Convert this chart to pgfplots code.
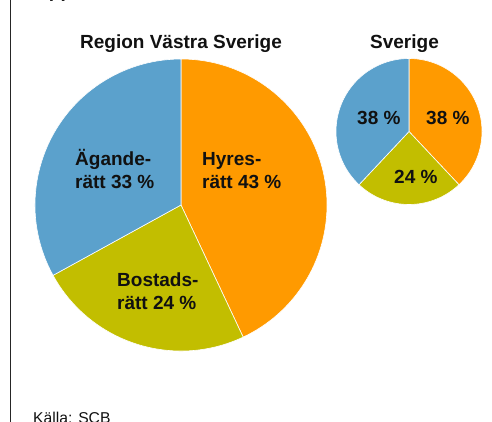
\documentclass[border=0pt]{standalone}
\usepackage{pgfplots}
\pgfplotsset{compat=1.18}
\usepackage{pgfplotstable}
\usepackage{fontspec}
\setmainfont{Liberation Sans}
\definecolor{hyres}{RGB}{255,154,0}
\definecolor{bostad}{RGB}{194,190,0}
\definecolor{agande}{RGB}{91,161,204}
\definecolor{txt}{RGB}{17,17,17}

% columns: centre x, centre y (image px), radius, cumulative share before slice, share (%)
\pgfplotstableread{
x   y     r   cum val
181 205   146 0   43
409 131.5 73  0   38
}\hyresdata
\pgfplotstableread{
x   y     r   cum val
181 205   146 43  24
409 131.5 73  38  24
}\bostaddata
\pgfplotstableread{
x   y     r   cum val
181 205   146 67  33
409 131.5 73  62  38
}\agandedata

\pgfdeclareplotmark{wedge}{%
  \pgfmathsetmacro\pa{90-3.6*\pcum}%
  \pgfmathsetmacro\pb{90-3.6*(\pcum+\pval)}%
  \pgfpathmoveto{\pgfpointorigin}%
  \pgfpathlineto{\pgfpointpolar{\pa}{\prad pt}}%
  \pgfpatharc{\pa}{\pb}{\prad pt}%
  \pgfpathclose
  \pgfusepathqfillstroke
}

\newcommand\lab[3]{\node[anchor=base west,inner sep=0pt,text=txt,font=\bfseries\fontsize{19}{23}\selectfont] at (axis cs:#1,#2) {#3};}

\pgfplotsset{frame/.style={
  at={(0,0)}, anchor=south west,
  width=492pt, height=421pt, scale only axis,
  xmin=0, xmax=492, ymin=0, ymax=421, y dir=reverse,
  hide axis, clip=false}}

\begin{document}
\begin{tikzpicture}
\useasboundingbox (0,0) rectangle (492pt,421pt);
\clip (0,0) rectangle (492pt,421pt);
\begin{axis}[frame,
  pie/.style={scatter, only marks, mark=wedge, point meta=\thisrow{val},
    visualization depends on={\thisrow{r} \as \prad},
    visualization depends on={\thisrow{cum} \as \pcum},
    visualization depends on={\thisrow{val} \as \pval},
    scatter/use mapped color={draw=white, fill=#1},
    mark options={line width=0.6pt}},
]
\addplot[pie=hyres] table {\hyresdata};
\addplot[pie=bostad] table {\bostaddata};
\addplot[pie=agande] table {\agandedata};
\end{axis}
\begin{axis}[frame]
% vertical rule
\draw[black!85, line width=1pt] (axis cs:10.5,-5) -- (axis cs:10.5,430);
% cut-off title
\node[anchor=base west,inner sep=0pt,text=txt,font=\bfseries\fontsize{19}{23}\selectfont] at (axis cs:35,-2.3) {Upplåtelseformer};
% pie titles
\node[anchor=base,inner sep=0pt,text=txt,font=\bfseries\fontsize{19}{23}\selectfont] at (axis cs:181,48) {Region Västra Sverige};
\node[anchor=base,inner sep=0pt,text=txt,font=\bfseries\fontsize{19}{23}\selectfont] at (axis cs:404.5,48) {Sverige};
% big pie labels
\lab{75}{165}{Ägande-}
\lab{75}{188}{rätt 33 \%}
\lab{202}{165}{Hyres-}
\lab{202}{188}{rätt 43 \%}
\lab{117}{286}{Bostads-}
\lab{117}{309}{rätt 24 \%}
% small pie labels
\lab{357}{124}{38 \%}
\lab{426}{124}{38 \%}
\lab{394}{183}{24 \%}
% source
\node[anchor=base west,inner sep=0pt,text=txt,font=\fontsize{15.7}{19}\selectfont] at (axis cs:33,423) {Källa: SCB};
\end{axis}
\end{tikzpicture}
\end{document}
